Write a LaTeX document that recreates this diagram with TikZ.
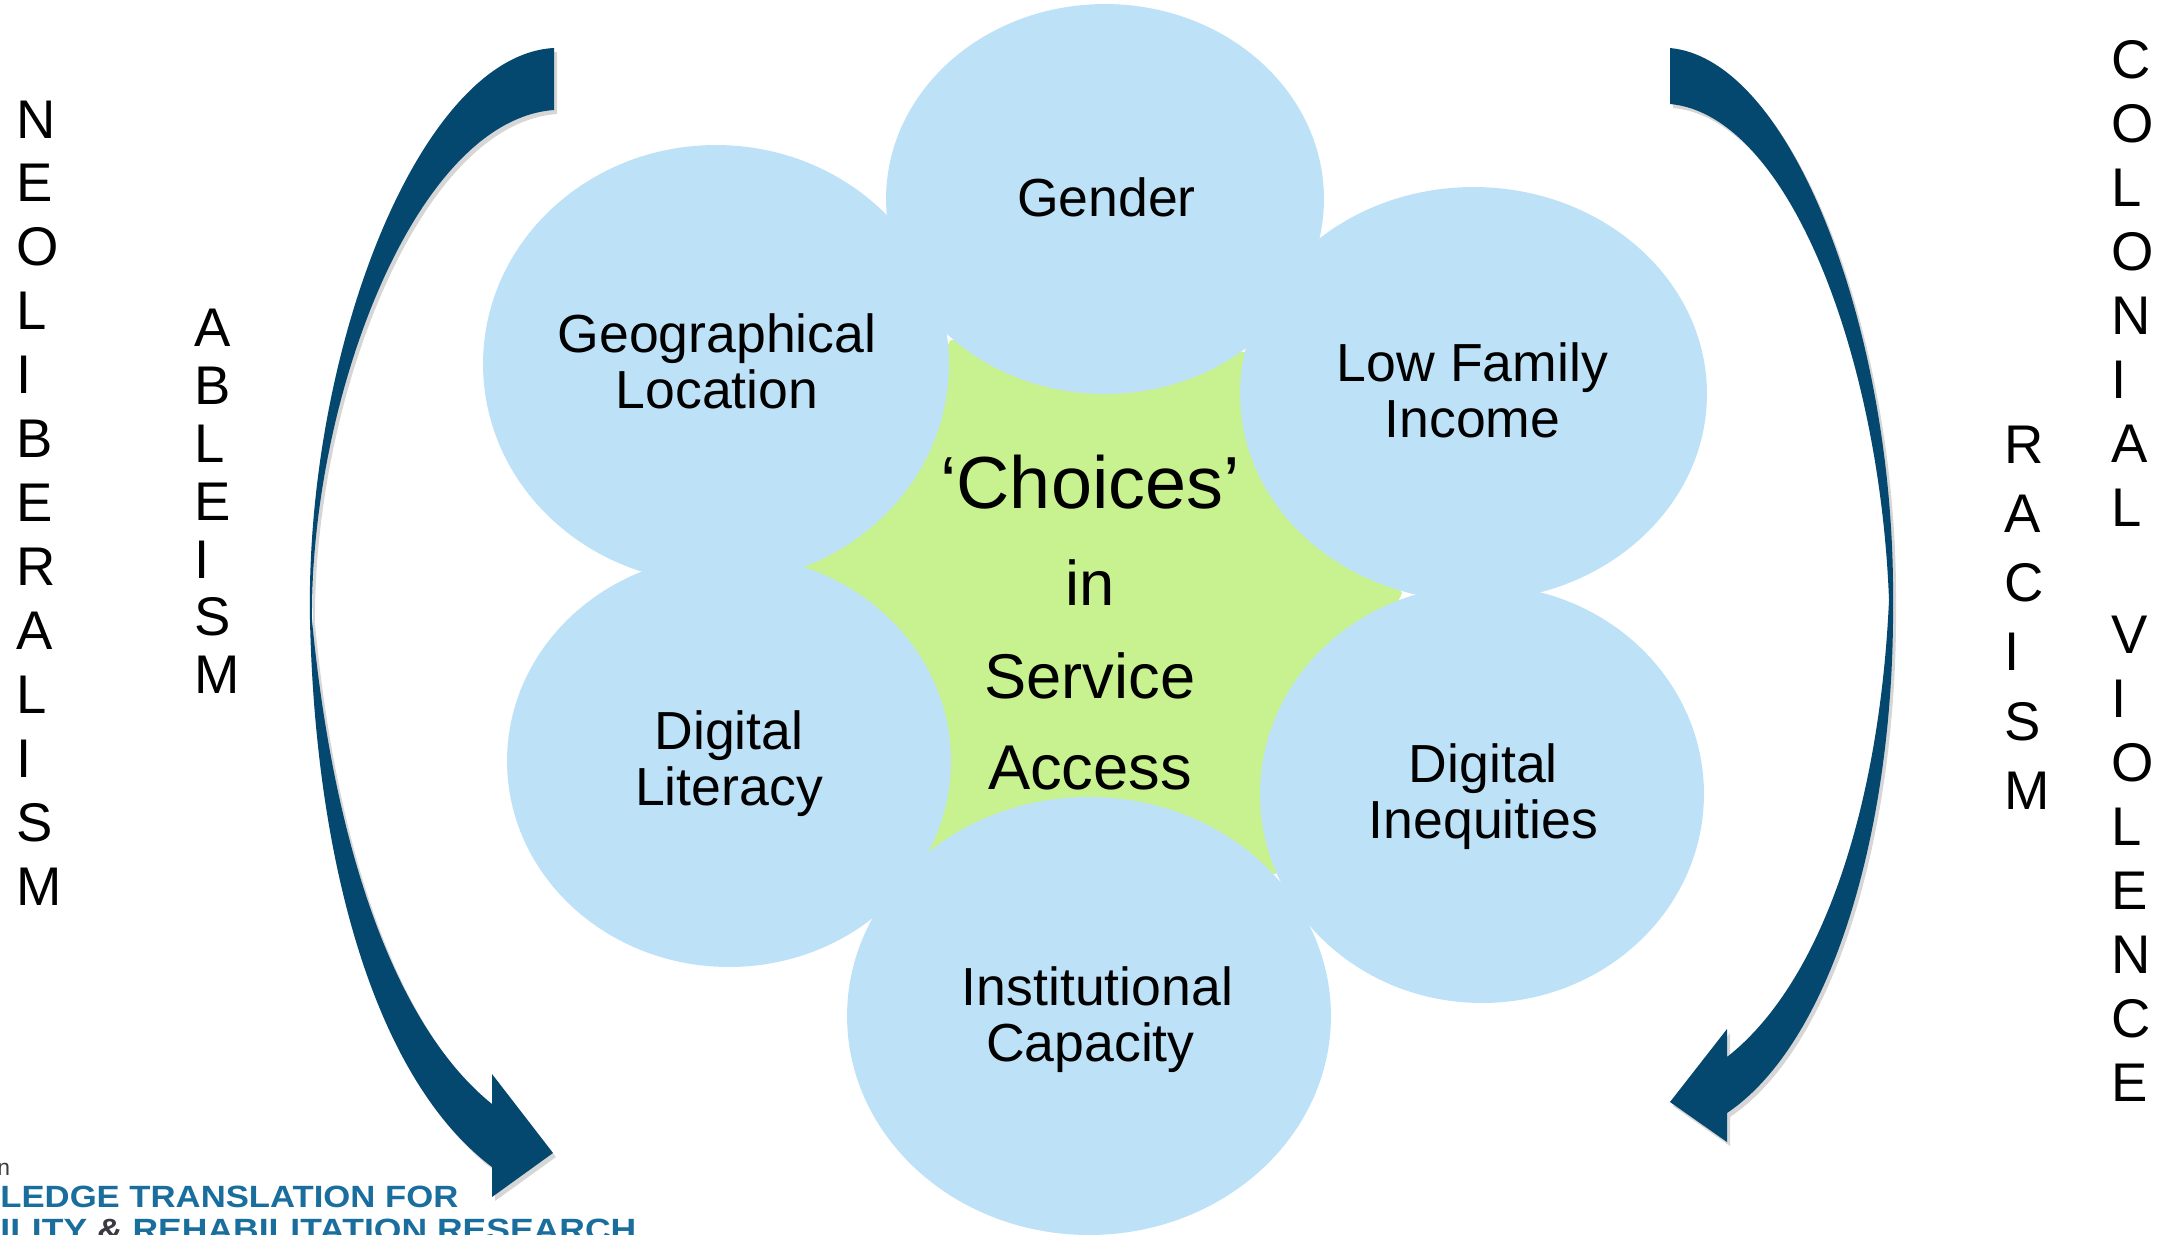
\documentclass[tikz,border=0pt]{standalone}
\usepackage{fontspec}
\setmainfont{Liberation Sans}
\usetikzlibrary{shapes.geometric}
\definecolor{petalblue}{HTML}{BDE2F7}
\definecolor{stargreen}{HTML}{C8F190}
\definecolor{arrowblue}{HTML}{04476F}
\definecolor{logoblue}{HTML}{1A6E9E}
\definecolor{logogray}{HTML}{3A3A42}
\tikzset{
  petal/.style={ellipse,fill=petalblue,inner sep=0pt,outer sep=0pt},
  petaltext/.style={inner sep=0pt,align=center,font=\fontsize{30.5}{32}\selectfont},
  mid/.style={anchor=base,inner sep=0pt,font=\fontsize{36}{40}\selectfont},
  stack/.style={anchor=west,inner sep=0pt,align=left},
  swoosh/.style={fill=arrowblue},
  swooshshadow/.style={fill=black,opacity=.16,shift={(3,4)}},
  logo/.style={anchor=base west,inner sep=0pt,text=logoblue,font=\fontsize{17.5}{18}\selectfont\bfseries}
}
\newcommand{\leftarrowpath}{
  (554,48) .. controls (420,55) and (305,350) .. (310,620)
  .. controls (315,850) and (370,1075) .. (492,1167)
  -- (492,1197) -- (553,1153) -- (492,1074) -- (492,1104)
  .. controls (400,1030) and (335,860) .. (312,620)
  .. controls (310,400) and (415,120) .. (554,110)
  -- cycle}
\newcommand{\rightarrowpath}{
  (1670,48) .. controls (1795,60) and (1895,340) .. (1893,600)
  .. controls (1895,820) and (1835,1040) .. (1727,1113)
  -- (1727,1142) -- (1670,1102) -- (1727,1029) -- (1727,1057)
  .. controls (1825,980) and (1880,800) .. (1889,600)
  .. controls (1880,360) and (1790,115) .. (1670,104)
  -- cycle}
\begin{document}
\begin{tikzpicture}[x=0.02cm,y=-0.02cm]
\useasboundingbox (0,0) rectangle (2177,1234);
\fill[white] (0,0) rectangle (2177,1234);
% star behind the petals
\fill[stargreen] (951,340) -- (1245,352) -- (1402,593) -- (1276,874) -- (929,853) -- (804,567) -- cycle;
% petals
\node[petal,minimum width=8.76cm,minimum height=7.8cm] (gender) at (1105,199) {};
\node[petal,minimum width=9.32cm,minimum height=8.76cm] (geo) at (716,364) {};
\node[petal,minimum width=9.34cm,minimum height=8.28cm] (low) at (1473.5,394) {};
\node[petal,minimum width=8.88cm,minimum height=8.24cm] (lit) at (729,761) {};
\node[petal,minimum width=8.88cm,minimum height=8.36cm] (ineq) at (1482,794) {};
\node[petal,minimum width=9.68cm,minimum height=8.76cm] (inst) at (1089,1016) {};
% petal labels
\node[petaltext] (gendert) at (1106.4,197.6) {Gender};
\node[petaltext] (geot) at (717,361) {Geographical\\Location};
\node[petaltext] (lowt) at (1472.4,390) {Low Family\\Income};
\node[petaltext] (litt) at (729,764) {Digital\\Literacy};
\node[petaltext] (ineqt) at (1483.4,797) {Digital\\Inequities};
\node[petaltext] (instt) at (1090.4,1020) {\hspace*{.28cm}Institutional\\Capacity};
% centre text
\node[mid,font=\fontsize{42}{46}\selectfont] (choices) at (1090,508) {‘Choices’};
\node[mid] (in) at (1090,605) {in};
\node[mid] (service) at (1090,698) {Service};
\node[mid] (access) at (1090,789) {Access};
% arrows
\fill[swooshshadow] \leftarrowpath;
\fill[swooshshadow] \rightarrowpath;
\fill[swoosh] \leftarrowpath;
\fill[swoosh] \rightarrowpath;
% side stacks
\node[stack,font=\fontsize{31}{36.4}\selectfont] (neo) at (16,503) {N\\E\\O\\L\\I\\B\\E\\R\\A\\L\\I\\S\\M};
\node[stack,font=\fontsize{31}{32.9}\selectfont] (able) at (194,501.5) {A\\B\\L\\E\\I\\S\\M};
\node[stack,font=\fontsize{31}{39.4}\selectfont] (rac) at (2004,617.5) {R\\A\\C\\I\\S\\M};
\node[stack,font=\fontsize{31}{36.4}\selectfont] (col) at (2111,571) {C\\O\\L\\O\\N\\I\\A\\L\\\mbox{}\\V\\I\\O\\L\\E\\N\\C\\E};
% logo fragment
\node[anchor=base west,inner sep=0pt,text=logogray,font=\fontsize{13}{14}\selectfont] (logon) at (-3,1175) {n};
\node[logo,xscale=1.128] (logoa) at (0,1207) {LEDGE TRANSLATION FOR};
\node[logo,xscale=1.155] (logob) at (0,1240) {ILITY {\color{logogray}\&} REHABILITATION RESEARCH};
\end{tikzpicture}
\end{document}
